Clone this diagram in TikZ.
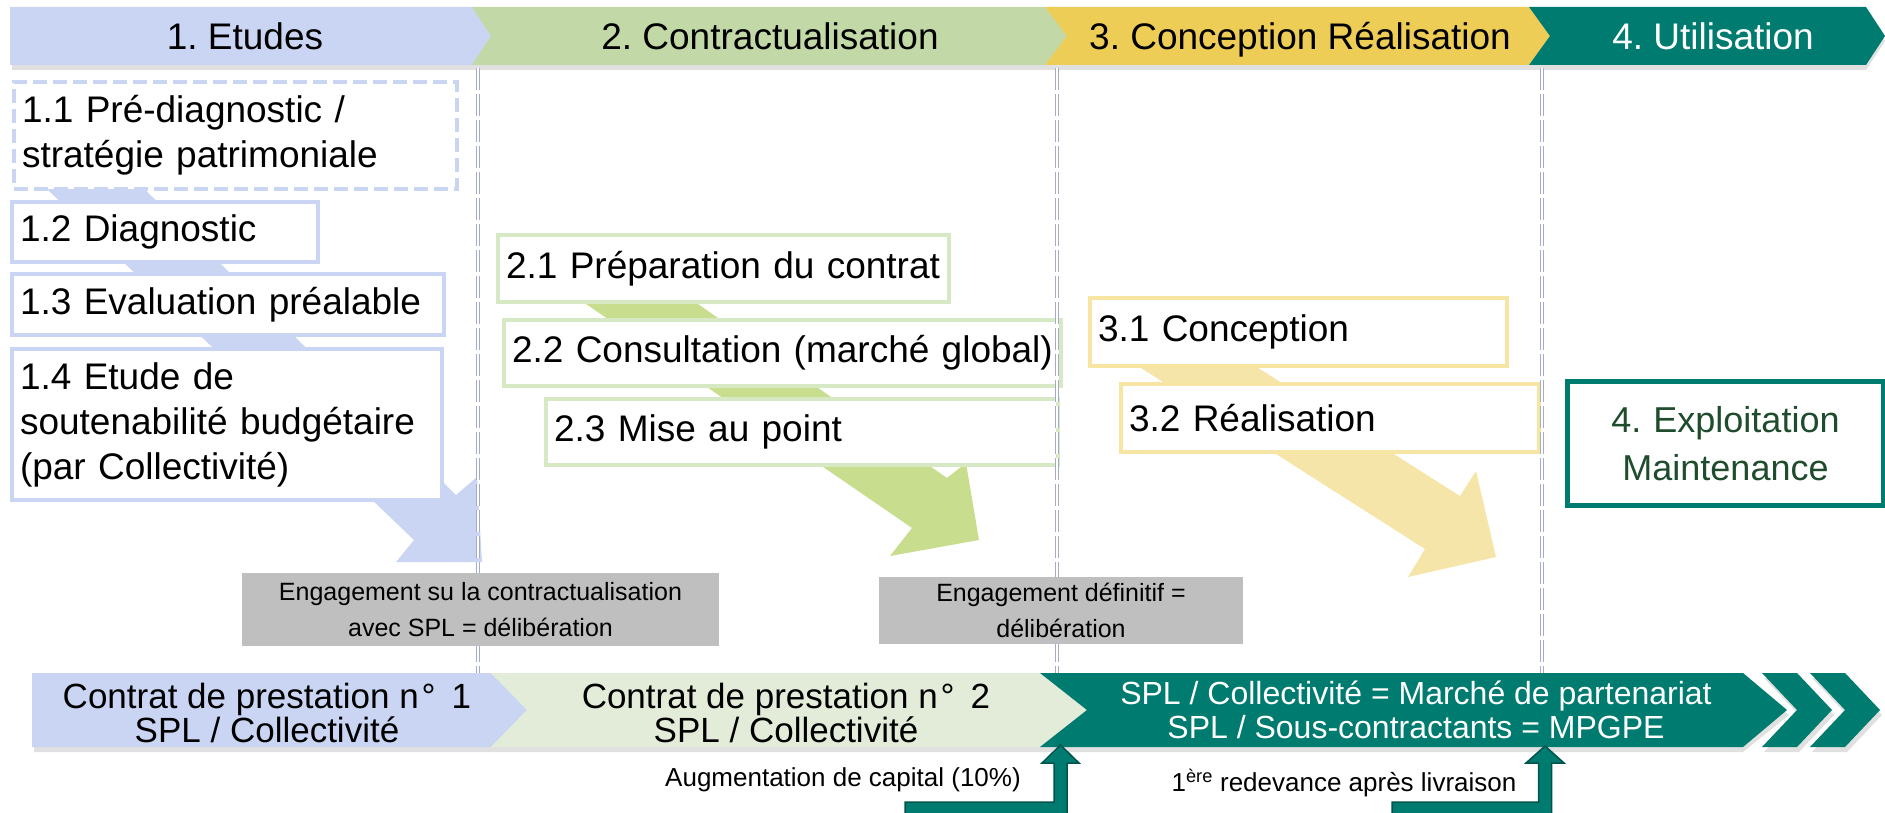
\documentclass[tikz,border=0pt]{standalone}
\usepackage{fontspec}
\setmainfont{Liberation Sans}
\usetikzlibrary{calc}

\definecolor{etudeblue}{RGB}{201,213,242}
\definecolor{contrgreen}{RGB}{194,216,166}
\definecolor{concyellow}{RGB}{238,205,86}
\definecolor{utilteal}{RGB}{0,123,111}
\definecolor{tealdark}{RGB}{0,84,76}
\definecolor{arrowgreen}{RGB}{200,222,142}
\definecolor{arrowyellow}{RGB}{246,229,168}
\definecolor{greenframe}{RGB}{214,232,196}
\definecolor{yellowframe}{RGB}{247,229,164}
\definecolor{palegreen}{RGB}{227,235,217}
\definecolor{engagegray}{RGB}{191,191,191}
\definecolor{sepgray}{RGB}{162,172,202}
\definecolor{exploitgreen}{RGB}{30,76,44}
\frenchspacing

\begin{document}
\begin{tikzpicture}[x=1pt, y=-1pt,
  stepbox/.style={draw=#1, line width=4pt, fill=white, anchor=north west, align=left, inner xsep=8pt, inner ysep=0pt, font=\fontsize{37}{45}\selectfont},
  headtext/.style={anchor=base, inner sep=0pt, font=\fontsize{37}{44}\selectfont},
  bandtext/.style={align=center, inner sep=0pt, font=\fontsize{35}{33}\selectfont},
  engage/.style={fill=engagegray, align=center, inner sep=0pt, font=\fontsize{25}{36}\selectfont},
  notetext/.style={inner sep=0pt, font=\fontsize{26}{30}\selectfont},
  sepline/.style={draw=sepgray, line width=0.8pt, double=white, double distance=2pt, dash pattern=on 22pt off 4pt},
  liftarrow/.style={fill=utilteal, draw=tealdark, line width=1.5pt, line join=miter},
  shade/.style={fill=black, opacity=0.12}]

\useasboundingbox (0,0) rectangle (1885,813);

% phases
\fill[shade] (12,12) -- (1866,12) -- (1885,41) -- (1866,70) -- (12,70) -- cycle;
\fill[etudeblue] (10,7) -- (472,7) -- (491,36) -- (472,65) -- (10,65) -- cycle;
\fill[contrgreen] (472,7) -- (1045,7) -- (1067,36) -- (1045,65) -- (472,65) -- (491,36) -- cycle;
\fill[concyellow] (1045,7) -- (1529,7) -- (1550,36) -- (1529,65) -- (1045,65) -- (1067,36) -- cycle;
\fill[utilteal] (1529,7) -- (1866,7) -- (1885,36) -- (1866,65) -- (1529,65) -- (1550,36) -- cycle;
\node[headtext] (h1) at (245,50) {1. Etudes};
\node[headtext] (h2) at (770,50) {2. Contractualisation};
\node[headtext] (h3) at (1300,50) {3. Conception Réalisation};
\node[headtext, text=white] (h4) at (1713,50) {4. Utilisation};

% grandes fleches
\fill[etudeblue] (27,170) -- (414,540) -- (396,562) -- (482,562) -- (477,477) -- (456,495) -- (125,170) -- cycle;
\fill[arrowgreen] (522,260) -- (912,528) -- (890,556) -- (979,540) -- (966,463) -- (947,478) -- (635,260) -- cycle;
\fill[arrowyellow] (1097,340) -- (1425,549) -- (1408,577) -- (1496,557) -- (1476,471) -- (1460,496) -- (1214,340) -- cycle;

% etapes
\node[stepbox=etudeblue, dash pattern=on 14pt off 6pt, minimum width=443pt, minimum height=107pt, text width=427pt] (b11) at (12,80) {1.1 Pré-diagnostic /\\stratégie patrimoniale};
\node[stepbox=etudeblue, minimum width=306pt, minimum height=60pt, text width=290pt] (b12) at (10,200) {1.2 Diagnostic};
\node[stepbox=etudeblue, minimum width=432pt, minimum height=61pt, text width=416pt] (b13) at (10,272) {1.3 Evaluation préalable};
\node[stepbox=etudeblue, minimum width=430pt, minimum height=151pt, text width=414pt] (b14) at (10,347) {1.4 Etude de\\soutenabilité budgétaire\\(par Collectivité)};
\node[stepbox=greenframe, minimum width=451pt, minimum height=67pt, text width=435pt] (b21) at (496,233) {2.1 Préparation du contrat};
\node[stepbox=greenframe, minimum width=557pt, minimum height=66pt, text width=541pt] (b22) at (502,318) {2.2 Consultation (marché global)};
\node[stepbox=greenframe, minimum width=512pt, minimum height=66pt, text width=496pt] (b23) at (544,397) {2.3 Mise au point};
\node[stepbox=yellowframe, minimum width=417pt, minimum height=68pt, text width=401pt] (b31) at (1088,296) {3.1 Conception};
\node[stepbox=yellowframe, minimum width=418pt, minimum height=68pt, text width=402pt] (b32) at (1119,382) {3.2 Réalisation};
\node[stepbox=utilteal, line width=5pt, align=center, text=exploitgreen, font=\fontsize{36}{48}\selectfont, minimum width=316pt, minimum height=124pt, text width=300pt] (b4) at (1565,379) {4. Exploitation\\Maintenance};

% separations
\draw[sepline] (478,68) -- (478,673);
\draw[sepline] (1057,68) -- (1057,673);
\draw[sepline] (1542,68) -- (1542,673);

\node[engage, minimum width=477pt, minimum height=73pt] (eng1) at (480.5,609.5) {Engagement su la contractualisation\\avec SPL = délibération};
\node[engage, minimum width=364pt, minimum height=67pt] (eng2) at (1061,610.5) {Engagement définitif =\\délibération};

% contrats
\fill[shade] (34,678) -- (1743,678) -- (1789,715) -- (1743,752) -- (34,752) -- cycle;
\fill[etudeblue] (32,673) -- (491,673) -- (527,710) -- (491,747) -- (32,747) -- cycle;
\fill[palegreen] (491,673) -- (1040,673) -- (1087,710) -- (1040,747) -- (491,747) -- (527,710) -- cycle;
\fill[utilteal] (1040,673) -- (1743,673) -- (1787,710) -- (1743,747) -- (1040,747) -- (1087,710) -- cycle;
\foreach \cx in {1762,1810} {
  \fill[shade] (\cx+2,678) -- (\cx+37,678) -- (\cx+72,715) -- (\cx+37,752) -- (\cx+2,752) -- (\cx+37,715) -- cycle;
  \fill[utilteal] (\cx,673) -- (\cx+35,673) -- (\cx+70,710) -- (\cx+35,747) -- (\cx,747) -- (\cx+35,710) -- cycle;
}
\node[bandtext] (ctr1) at (267,713) {Contrat de prestation n\kern3pt°\kern16pt 1\\SPL / Collectivité};
\node[bandtext] (ctr2) at (786,713) {Contrat de prestation n\kern3pt°\kern16pt 2\\SPL / Collectivité};
\node[bandtext, text=white, font=\fontsize{32}{34}\selectfont] (mp) at (1416,710) {SPL / Collectivité = Marché de partenariat\\SPL / Sous-contractants = MPGPE};

% versements
\draw[liftarrow] (1060.5,745) -- (1079,763) -- (1067,763) -- (1067,815) -- (905,815) -- (905,802) -- (1054,802) -- (1054,763) -- (1042,763) -- cycle;
\draw[liftarrow] (1545,746) -- (1564,763) -- (1551.5,763) -- (1551.5,815) -- (1392,815) -- (1392,802) -- (1538.5,802) -- (1538.5,763) -- (1526,763) -- cycle;
\node[notetext] (capit) at (843,780) {Augmentation de capital (10\%)};
\node[notetext] (redev) at (1344,783) {1\textsuperscript{ère} redevance après livraison};
\end{tikzpicture}
\end{document}
